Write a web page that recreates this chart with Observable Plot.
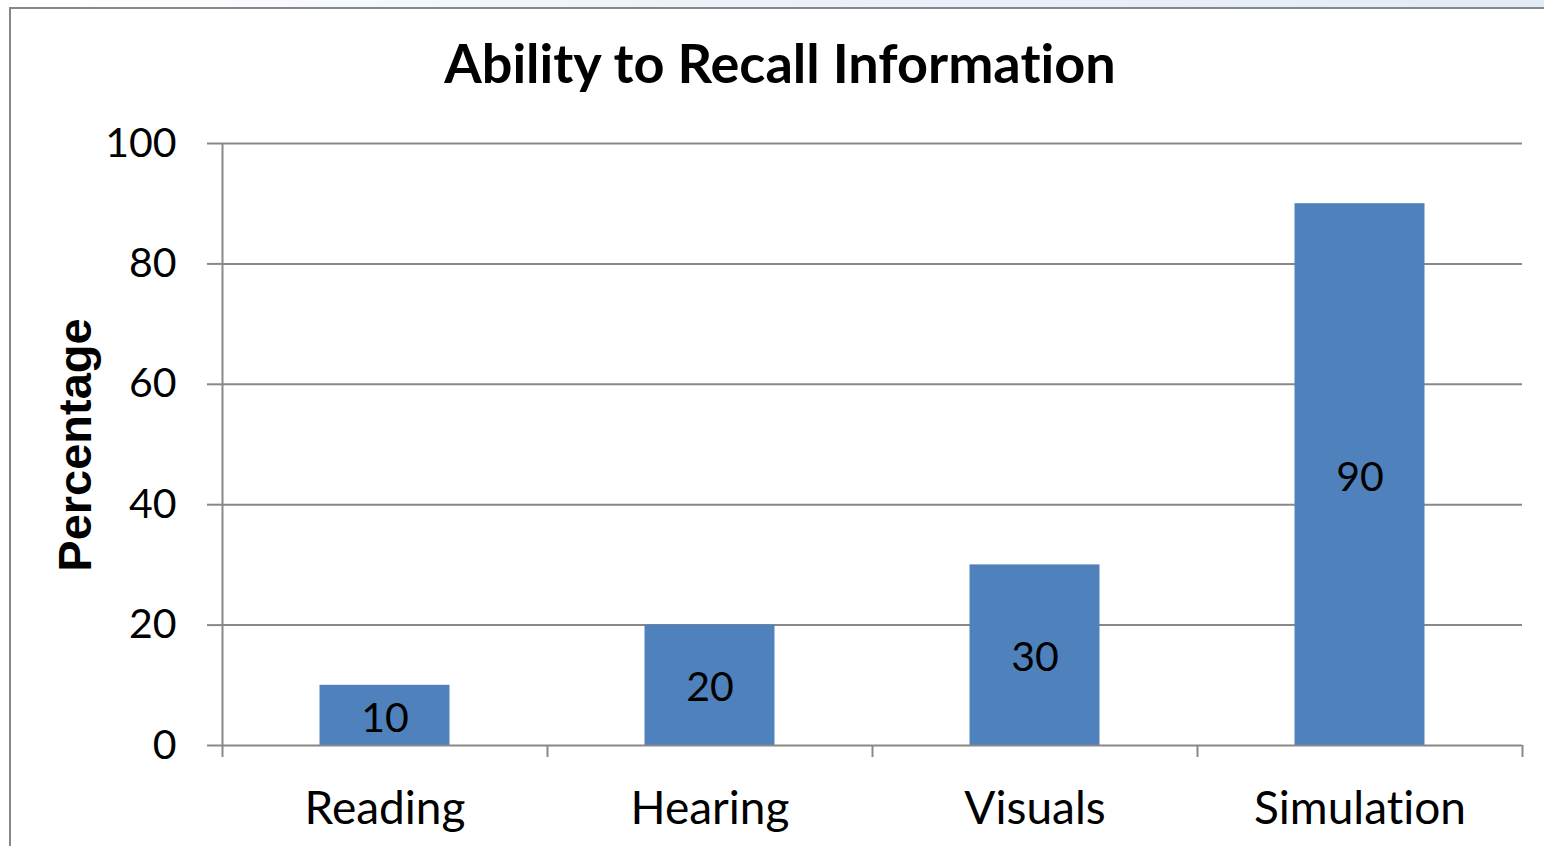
<!DOCTYPE html>
<html>
<head>
<meta charset="utf-8">
<script src="https://cdn.jsdelivr.net/npm/d3@7"></script>
<script src="https://cdn.jsdelivr.net/npm/@observablehq/plot@0.6"></script>
<style>
  html, body { margin: 0; padding: 0; width: 1544px; height: 846px; overflow: hidden;
    background: linear-gradient(to right, #ffffff 0%, #eef3fa 40%, #e2ebf6 100%);
    font-variant-ligatures: none; }
  #frame { position: absolute; left: 9px; top: 7px; width: 1600px; height: 900px;
    border: 2px solid #878787; background: #ffffff; box-sizing: border-box; }
  #title { position: absolute; left: 0; top: 30px; width: 1560px; text-align: center;
    font-family: Lato, "Open Sans", sans-serif; font-weight: bold; font-size: 54px; line-height: 66px; color: #000;
    font-variant-ligatures: none; }
  #ylabel { position: absolute; left: 74px; top: 445px; transform: translate(-50%, -50%) rotate(-90deg);
    font-family: "Liberation Sans", Arial, sans-serif; font-weight: bold; font-size: 47px; white-space: nowrap; color: #000; }
  #chart { position: absolute; left: 0; top: 100px; }
  #chart svg text { font-variant-ligatures: none; }
</style>
</head>
<body>
<div id="frame"></div>
<div id="title">Ability to Recall Information</div>
<div id="ylabel">Percentage</div>
<div id="chart"></div>
<script>
const categories = ["Reading", "Hearing", "Visuals", "Simulation"];
const values = [10, 20, 30, 90];
const yTicks = [0, 20, 40, 60, 80, 100];

const data = categories.map((c, i) => ({category: c, index: i, value: values[i]}));
const gray = "#888888";

const plot = Plot.plot({
  width: 1544,
  height: 746,
  marginTop: 43,
  marginBottom: 101,
  marginLeft: 222,
  marginRight: 22,
  style: {fontFamily: "Lato, 'Open Sans', sans-serif", fontSize: "41px", color: "#000", background: "transparent"},
  x: {type: "linear", domain: [0, categories.length]},
  y: {domain: [0, 100]},
  marks: [
    Plot.gridY(yTicks.slice(1), {stroke: gray, strokeOpacity: 1, strokeWidth: 2}),
    Plot.axisY(yTicks, {tickSize: 15, tickPadding: 31, stroke: gray, strokeWidth: 2, fill: "#000", label: null, fontSize: 41}),
    Plot.rectY(data, {x1: d => d.index + 0.3, x2: d => d.index + 0.7, y1: 0, y2: "value", fill: "#4F81BD"}),
    Plot.ruleY([0], {stroke: gray, strokeWidth: 2}),
    Plot.ruleX([0], {y1: 0, y2: 100, stroke: gray, strokeWidth: 2}),
    Plot.axisX(d3.range(categories.length + 1), {tickSize: 12, stroke: gray, strokeWidth: 2, tickFormat: () => "", label: null}),
    Plot.axisX(data.map(d => d.index + 0.5), {tickSize: 0, tickPadding: 46, tickFormat: (t) => categories[Math.floor(t)], fill: "#000", label: null, fontSize: 46}),
    Plot.text(data, {x: d => d.index + 0.5, y: d => d.value / 2, dy: 3, text: d => String(d.value), fill: "#000", fontSize: 41})
  ]
});
document.getElementById("chart").appendChild(plot);
</script>
</body>
</html>
